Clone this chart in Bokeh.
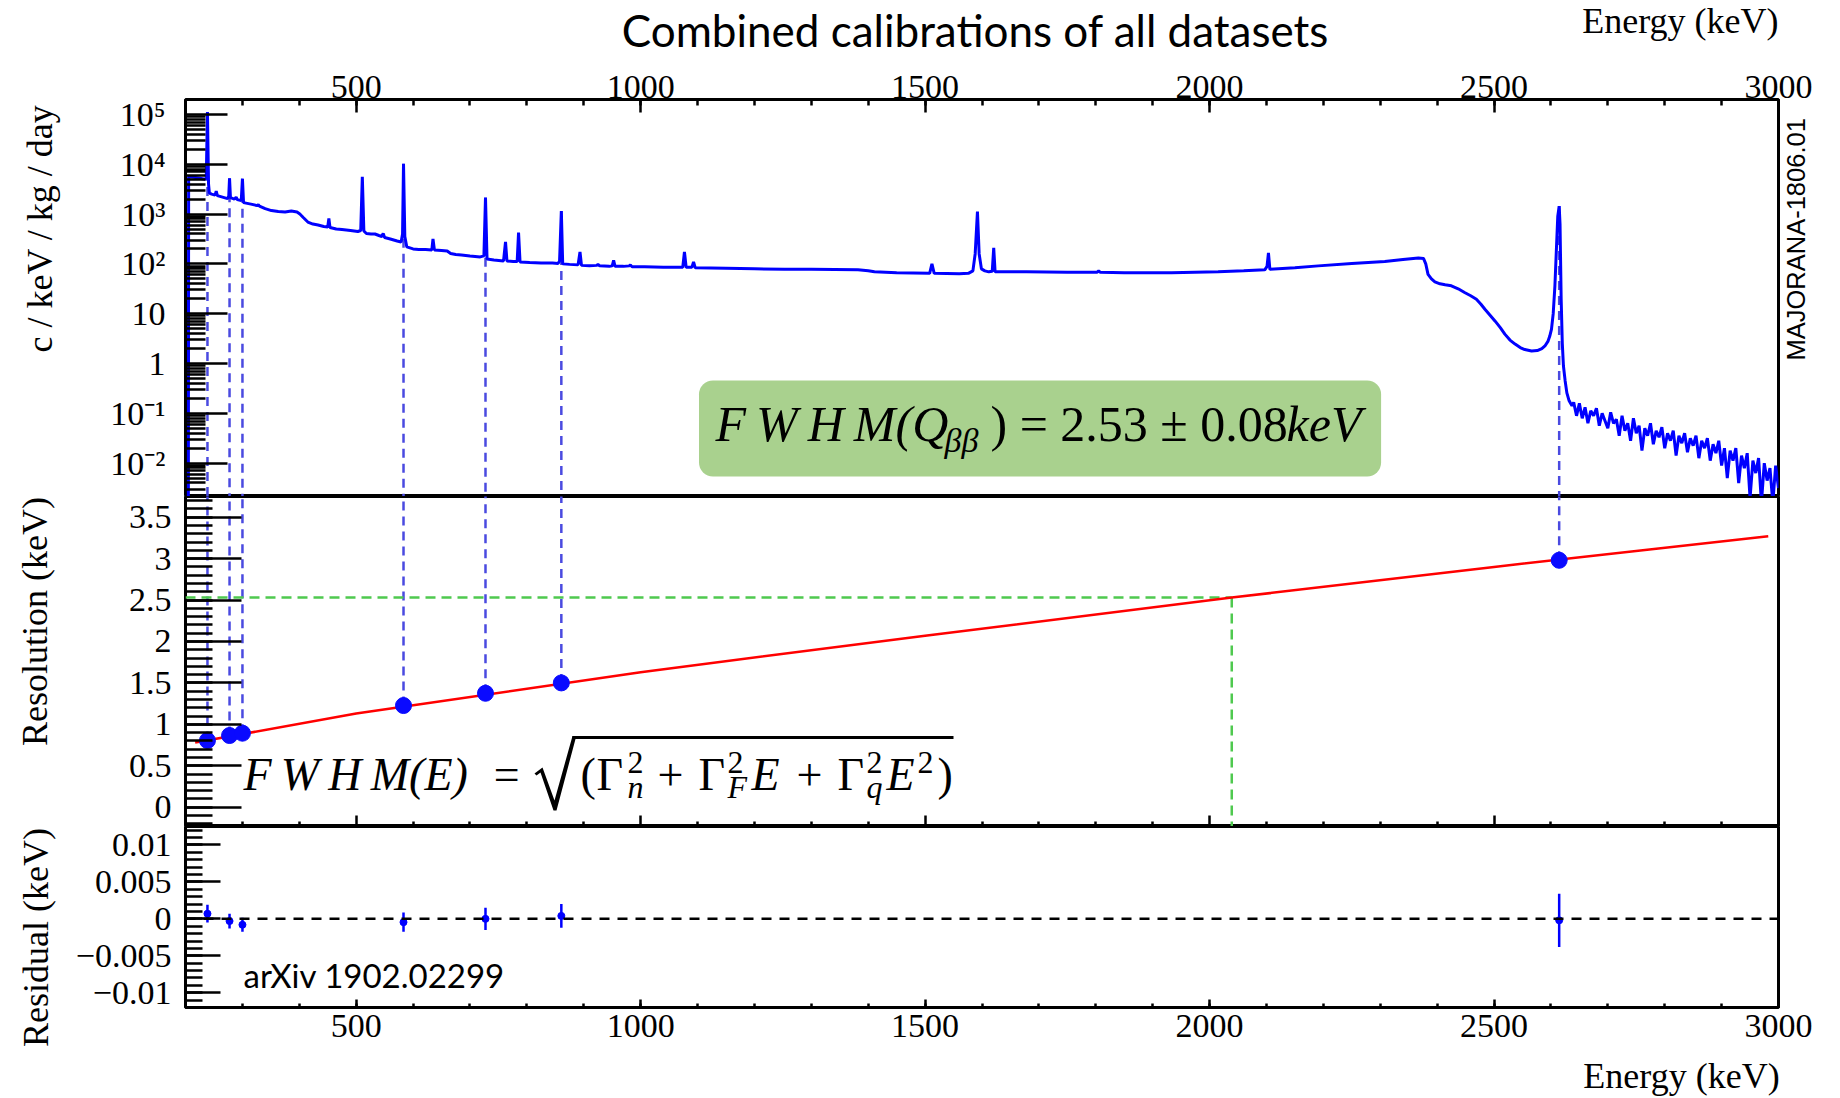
import math
from bokeh.plotting import figure
from bokeh.models import (Range1d, FixedTicker, SingleIntervalTicker, Label,
                          BoxAnnotation, PolyAnnotation, Span, LinearAxis)
from bokeh.layouts import column
from bokeh.embed import file_html
from bokeh.resources import INLINE

# ------------------------------------------------------------------ data
# combined calibration spectrum: (energy keV, log10 of c/keV/kg/day)
spectrum = [
    (205, -3.5), (205.5, 3.75), (215, 3.74), (225, 3.72), (234, 3.70), (236.5, 3.72), (238.6, 5.05), (240.5, 3.60), (242, 3.42), (246, 3.40),
    (252, 3.38), (254, 3.46), (256, 3.37), (265, 3.34), (274, 3.31), (276, 3.36), (277.4, 3.72), (279, 3.33), (286, 3.30), (289, 3.34),
    (291, 3.29), (298, 3.27), (300.1, 3.71), (302, 3.23), (315, 3.20), (326, 3.17), (328, 3.19), (330, 3.16), (340, 3.11), (351, 3.07),
    (363, 3.05), (375, 3.04), (386, 3.06), (396, 3.04), (401, 3.00), (407, 2.93), (415, 2.84), (424, 2.80), (433, 2.78), (443, 2.75),
    (450, 2.74), (452, 2.91), (454, 2.73), (465, 2.70), (475, 2.69), (490, 2.67), (503, 2.65), (508, 2.67), (510.8, 3.75), (513.5, 2.66),
    (518, 2.61), (526, 2.60), (533, 2.60), (540, 2.57), (545, 2.55), (547.5, 2.61), (550, 2.53), (560, 2.50), (572, 2.46), (579, 2.44),
    (581.5, 2.60), (583.2, 4.01), (585.5, 2.55), (589, 2.34), (600, 2.30), (610, 2.29), (622, 2.29), (633, 2.28), (635, 2.50), (637.5, 2.28),
    (650, 2.27), (660, 2.26), (666, 2.21), (675, 2.19), (685, 2.18), (700, 2.16), (718, 2.14), (724.5, 2.16), (727.3, 3.33), (730, 2.10),
    (742, 2.08), (759, 2.06), (762.5, 2.44), (765, 2.06), (776, 2.05), (783, 2.05), (785.4, 2.63), (788, 2.04), (805, 2.03), (825, 2.02),
    (845, 2.02), (855, 2.01), (857.5, 2.06), (860.6, 3.06), (863, 2.00), (875, 1.99), (890, 1.98), (893.4, 2.24), (896, 1.97), (910, 1.96),
    (923, 1.97), (925, 1.99), (928, 1.96), (945, 1.95), (950, 1.96), (952.5, 2.07), (955, 1.95), (970, 1.95), (980, 1.96), (982, 1.98),
    (985, 1.94), (1007, 1.94), (1040, 1.93), (1074, 1.93), (1077, 2.24), (1080, 1.93), (1090, 1.93), (1093, 2.04), (1096, 1.92), (1150, 1.91),
    (1200, 1.90), (1253, 1.89), (1300, 1.89), (1382, 1.88), (1400, 1.86), (1411, 1.84), (1450, 1.82), (1508, 1.81), (1512, 2.00), (1516, 1.81),
    (1560, 1.80), (1576, 1.81), (1584, 1.86), (1588, 2.20), (1592, 3.05), (1595, 2.20), (1599, 1.90), (1605, 1.86), (1612, 1.84), (1618, 1.85),
    (1620.6, 2.32), (1623, 1.84), (1678, 1.84), (1750, 1.83), (1802, 1.83), (1805, 1.86), (1808, 1.83), (1850, 1.82), (1933, 1.82), (2015, 1.84),
    (2060, 1.86), (2097, 1.88), (2101, 1.95), (2103.5, 2.22), (2106, 1.89), (2150, 1.92), (2191, 1.96), (2250, 2.01), (2308, 2.05), (2340, 2.09),
    (2367, 2.12), (2376, 2.11), (2380, 2.00), (2384, 1.79), (2390, 1.70), (2396, 1.64), (2405, 1.60), (2414, 1.58), (2425, 1.56), (2437, 1.50),
    (2449, 1.42), (2459, 1.36), (2469, 1.29), (2477, 1.19), (2484, 1.09), (2493, 0.97), (2502, 0.85), (2511, 0.72), (2519, 0.59), (2528, 0.47),
    (2537, 0.39), (2546, 0.32), (2554, 0.28), (2566, 0.25), (2576, 0.26), (2584, 0.30), (2590, 0.36), (2595, 0.45), (2598, 0.55), (2601, 0.69),
    (2604, 1.00), (2607, 1.56), (2610, 2.40), (2612, 2.95), (2614.5, 3.16), (2616, 2.80), (2618, 1.29), (2620, 0.40), (2622, -0.05), (2625, -0.35),
    (2628, -0.59), (2632, -0.75), (2637, -0.85),
    (2640, -0.78), (2645, -1.05), (2650, -0.80), (2655, -1.10), (2660, -0.88), (2665, -1.20), (2670, -0.95), (2675, -1.05), (2680, -0.90), (2685, -1.25),
    (2690, -1.00), (2695, -1.15), (2700, -1.30), (2705, -0.98), (2710, -1.20), (2715, -1.12), (2720, -1.45), (2725, -1.05), (2730, -1.35), (2735, -1.20),
    (2740, -1.55), (2745, -1.10), (2750, -1.40), (2755, -1.25), (2760, -1.75), (2765, -1.30), (2770, -1.45), (2775, -1.20), (2780, -1.62), (2785, -1.35),
    (2790, -1.48), (2795, -1.28), (2800, -1.70), (2805, -1.40), (2810, -1.55), (2815, -1.35), (2820, -1.85), (2825, -1.45), (2830, -1.60), (2835, -1.40),
    (2840, -1.78), (2845, -1.50), (2850, -1.65), (2855, -1.45), (2860, -1.90), (2865, -1.55), (2870, -1.70), (2875, -1.50), (2880, -1.95), (2885, -1.62),
    (2890, -1.80), (2895, -1.55), (2900, -2.05), (2905, -1.70), (2910, -2.30), (2915, -1.75), (2920, -1.95), (2925, -1.70), (2930, -2.40), (2935, -1.85),
    (2940, -2.10), (2945, -1.80), (2950, -2.70), (2955, -1.95), (2960, -2.20), (2965, -1.90), (2970, -2.80), (2975, -2.00), (2980, -2.35), (2985, -2.10),
    (2990, -2.80), (2995, -2.05), (3000, -2.50),
]
spec_energy = [p[0] for p in spectrum]
spec_log10 = [p[1] for p in spectrum]

# calibration peaks
cal_energy = [238.6, 277.4, 300.1, 583.2, 727.3, 860.6, 2614.5]
cal_peak_log10 = [5.05, 3.72, 3.71, 4.01, 3.33, 3.06, 3.16]
cal_fwhm = [0.805, 0.865, 0.893, 1.227, 1.375, 1.50, 2.98]
resid = [0.0007, -0.0003, -0.0008, -0.00045, 0.0, 0.0004, -0.0002]
resid_err = [0.0012, 0.0010, 0.00095, 0.0013, 0.0015, 0.0016, 0.0036]

# fitted resolution curve
fit_energy = [217, 500, 1000, 1500, 2039, 2500, 2982]
fit_fwhm = [0.78, 1.13, 1.63, 2.07, 2.53, 2.90, 3.27]

q_bb = 2039.0
fwhm_qbb = 2.53

log_ticks = [1e-2, 1e-1, 1.0, 10.0, 1e2, 1e3, 1e4, 1e5]
log_tick_labels = ["10\u207b\u00b2", "10\u207b\u00b9", "1", "10", "10\u00b2", "10\u00b3", "10\u2074", "10\u2075"]
res_ticks = [0.0, 0.5, 1.0, 1.5, 2.0, 2.5, 3.0, 3.5]
res_tick_labels = ["0", "0.5", "1", "1.5", "2", "2.5", "3", "3.5"]
resid_ticks = [-0.01, -0.005, 0.0, 0.005, 0.01]
resid_tick_labels = ["\u22120.01", "\u22120.005", "0", "0.005", "0.01"]
energy_major = [500, 1000, 1500, 2000, 2500, 3000]
energy_minor = [e for e in range(200, 3001, 100) if e % 500 != 0]

# ------------------------------------------------------------------ layout
W, H = 1840, 1098
FL, FR = 185, 1778
X0, X1 = 200, 3000
HEAD = 56                 # header strip (title)
T1, B1, B2, B3 = 99, 496, 826, 1007
LOG_BOT, LOG_TOP = -2.67, 5.30
R_BOT, R_TOP = -0.233, 3.75
S_BOT, S_TOP = -0.0120, 0.0125

def px_x(px):
    return X0 + (px - FL) * (X1 - X0) / (FR - FL)

def y1(py):
    return 10 ** (LOG_TOP - (py - T1) * (LOG_TOP - LOG_BOT) / (B1 - T1))

def y2(py):
    return R_TOP - (py - B1) * (R_TOP - R_BOT) / (B2 - B1)

def y3(py):
    return S_TOP - (py - B2) * (S_TOP - S_BOT) / (B3 - B2)

SERIF = "Liberation Serif"
BLUE = "#0000ff"
DASH_BLUE = "#4a4ae0"

common = dict(width=W, toolbar_location=None, output_backend="svg",
              min_border_left=FL, min_border_right=W - FR,
              background_fill_color="white", border_fill_color="white")

# header strip holding the title (frame aligned with the panels below)
f0 = figure(height=HEAD, x_range=Range1d(X0, X1), y_range=Range1d(HEAD, 0),
            x_axis_type=None, y_axis_type=None, min_border_top=0, min_border_bottom=0,
            outline_line_color=None, **common)
f0.add_layout(Label(x=px_x(975), y=29, text="Combined calibrations of all datasets", text_font="Lato",
                    text_font_size="44px", text_align="center", text_baseline="middle", text_color="black"))
f0.add_layout(Label(x=X1, y=20, text="Energy (keV)", text_font=SERIF, text_font_size="36px",
                    text_align="right", text_baseline="middle", text_color="black"))

xr = Range1d(X0, X1)
f1 = figure(height=B1 - HEAD, x_range=xr, y_axis_type="log", y_range=Range1d(10 ** LOG_BOT, 10 ** LOG_TOP),
            x_axis_location="above", min_border_top=T1 - HEAD, min_border_bottom=0, **common)
f2 = figure(height=B2 - B1, x_range=xr, y_range=Range1d(R_BOT, R_TOP), x_axis_type=None,
            min_border_top=0, min_border_bottom=0, **common)
f3 = figure(height=H - B2, x_range=xr, y_range=Range1d(S_BOT, S_TOP),
            min_border_top=0, min_border_bottom=H - B3, **common)

def style_axis(ax, tin, tmin, standoff=5, size=34, font=SERIF):
    ax.axis_line_color = None
    ax.major_tick_in = tin
    ax.major_tick_out = 0
    ax.minor_tick_in = tmin
    ax.minor_tick_out = 0
    ax.major_tick_line_width = 2.5
    ax.minor_tick_line_width = 2.5
    ax.major_tick_line_color = "black"
    ax.minor_tick_line_color = "black"
    ax.major_label_text_font = font
    ax.major_label_text_font_size = f"{size}px"
    ax.major_label_text_color = "black"
    ax.major_label_standoff = standoff

def title_axis(fig, side, pos, text, standoff, orient, size=36, font=SERIF):
    # an axis carrying a single tick whose label is the title text
    ax = LinearAxis(ticker=FixedTicker(ticks=[pos], minor_ticks=[]))
    style_axis(ax, 0, 0, standoff, size, font)
    ax.major_tick_line_color = None
    ax.major_label_overrides = {pos: text}
    ax.major_label_orientation = orient
    fig.add_layout(ax, side)

for f in (f1, f2, f3):
    f.outline_line_color = "black"
    f.outline_line_width = 3
    f.xgrid.grid_line_color = None
    f.ygrid.grid_line_color = None

# x axes
f1.xaxis.ticker = SingleIntervalTicker(interval=500, num_minor_ticks=5)
style_axis(f1.xaxis[0], 13, 6, 2)
f3.xaxis.ticker = SingleIntervalTicker(interval=500, num_minor_ticks=5)
style_axis(f3.xaxis[0], 8, 4, 7)
title_axis(f3, "below", px_x(1681), "Energy (keV)", 16, "horizontal")

# ticks only (no labels) along the bottom of the middle panel
for minors, ln in ((energy_major, 11), (energy_minor, 5)):
    ax = LinearAxis(ticker=FixedTicker(ticks=[], minor_ticks=minors))
    style_axis(ax, 0, ln, 0)
    f2.add_layout(ax, "below")

# y axes
f1.yaxis.ticker = FixedTicker(ticks=log_ticks,
                              minor_ticks=[k * 10.0 ** e for e in range(-3, 6) for k in range(2, 10)])
f1.yaxis.major_label_overrides = dict(zip(log_ticks, log_tick_labels))
style_axis(f1.yaxis[0], 42, 20, 20)
title_axis(f1, "left", y1(228), "c / keV / kg / day", 48, "vertical")

f2.yaxis.ticker = FixedTicker(ticks=res_ticks, minor_ticks=[round(0.1 * i, 2) for i in range(-2, 38)])
f2.yaxis.major_label_overrides = dict(zip(res_ticks, res_tick_labels))
style_axis(f2.yaxis[0], 56, 27, 14)
title_axis(f2, "left", y2(620), "Resolution (keV)", 70, "vertical")

f3.yaxis.ticker = FixedTicker(ticks=resid_ticks, minor_ticks=[round(0.001 * i, 4) for i in range(-12, 13)])
f3.yaxis.major_label_overrides = dict(zip(resid_ticks, resid_tick_labels))
style_axis(f3.yaxis[0], 35, 17, 14)
title_axis(f3, "left", y3(934), "Residual (keV)", 16, "vertical")

# right-hand tag, reading upwards
title_axis(f1, "right", y1(360), "MAJORANA-1806.01", 17, math.pi / 2, size=25.5, font="Liberation Sans")

# ------------------------------------------------------------------ top panel
spec_rate = [10 ** v for v in spec_log10]
cal_peak_rate = [10 ** v for v in cal_peak_log10]
f1.segment(x0=cal_energy, y0=cal_peak_rate, x1=cal_energy, y1=[10 ** (LOG_BOT - 0.2)] * len(cal_energy),
           line_color=DASH_BLUE, line_width=2.5, line_dash="9 6")
f1.line(spec_energy, spec_rate, line_color=BLUE, line_width=3)

f1.add_layout(BoxAnnotation(left=px_x(698.5), right=px_x(1380.6), top=y1(380), bottom=y1(476),
                            fill_color="#a9d18e", fill_alpha=1.0, line_color=None, border_radius=14))

def add_label(fig, text, x, y, size, style="normal", font=SERIF, align="left"):
    fig.add_layout(Label(x=x, y=y, text=text, text_font=font, text_font_size=f"{size}px",
                         text_font_style=style, text_align=align, text_baseline="middle",
                         text_color="black"))

# FWHM(Q_bb) box text (y = middle of em box)
add_label(f1, "F\u2009W\u2009H\u2009M(Q", px_x(715), y1(423), 50, "italic")
add_label(f1, "\u03b2\u03b2", px_x(944), y1(440), 34, "italic")
add_label(f1, ") = 2.53 \u00b1 0.08", px_x(990), y1(423), 50)
add_label(f1, "keV", px_x(1286), y1(423), 50, "italic")

# ------------------------------------------------------------------ middle panel
f2.segment(x0=cal_energy, y0=cal_fwhm, x1=cal_energy, y1=[R_TOP + 0.1] * len(cal_energy),
           line_color=DASH_BLUE, line_width=2.5, line_dash="9 6")
f2.segment(x0=[X0, q_bb], y0=[fwhm_qbb, fwhm_qbb], x1=[q_bb, q_bb], y1=[fwhm_qbb, R_BOT - 0.1],
           line_color="#4fc94f", line_width=2.5, line_dash="10 6")
f2.line(fit_energy, fit_fwhm, line_color="#ff0000", line_width=2.5)
f2.scatter(cal_energy, cal_fwhm, size=16, fill_color="#0a0aff", line_color="#0a0aff")

# formula FWHM(E) = sqrt(...)
MID, SUPM, SUBM = 774, 762, 786
add_label(f2, "F\u2009W\u2009H\u2009M(E)\u2002=", px_x(243), y2(MID), 46, "italic")
rad_px = [(534, 773), (542, 767), (554, 800), (572, 735.5), (575, 735.5), (575, 738.5),
          (556, 810), (553, 810), (540, 772), (536, 775)]
f2.add_layout(PolyAnnotation(xs=[px_x(p[0]) for p in rad_px], ys=[y2(p[1]) for p in rad_px],
                             fill_color="black", fill_alpha=1.0, line_color=None))
f2.add_layout(BoxAnnotation(left=px_x(572), right=px_x(953), top=y2(735.5), bottom=y2(738.5),
                            fill_color="black", fill_alpha=1.0, line_color=None))
pieces = [
    ("(", 580, MID, 46, "normal"), ("\u0393", 596, MID, 46, "normal"),
    ("2", 627, SUPM, 32, "normal"), ("n", 627, SUBM, 32, "italic"),
    ("+", 657, MID, 46, "normal"), ("\u0393", 698, MID, 46, "normal"),
    ("2", 727, SUPM, 32, "normal"), ("F", 727, SUBM, 32, "italic"),
    ("E", 751, MID, 46, "italic"), ("+", 796, MID, 46, "normal"),
    ("\u0393", 837, MID, 46, "normal"), ("2", 866, SUPM, 32, "normal"), ("q", 866, SUBM, 32, "italic"),
    ("E", 886, MID, 46, "italic"), ("2", 917, SUPM, 32, "normal"), (")", 937, MID, 46, "normal"),
]
for t, px, py, sz, st in pieces:
    add_label(f2, t, px_x(px), y2(py), sz, st)

# ------------------------------------------------------------------ bottom panel
f3.add_layout(Span(location=0, dimension="width", line_color="black", line_width=2.5, line_dash="10 8"))
lo = [r - e for r, e in zip(resid, resid_err)]
hi = [r + e for r, e in zip(resid, resid_err)]
f3.segment(x0=cal_energy, y0=lo, x1=cal_energy, y1=hi, line_color=BLUE, line_width=2.5)
f3.scatter(cal_energy, resid, size=7, fill_color=BLUE, line_color=BLUE)
add_label(f3, "arXiv 1902.02299", px_x(243), y3(974), 33, font="Lato")

layout = column(f0, f1, f2, f3, spacing=0)
open("out.html", "w").write(file_html(layout, INLINE))
